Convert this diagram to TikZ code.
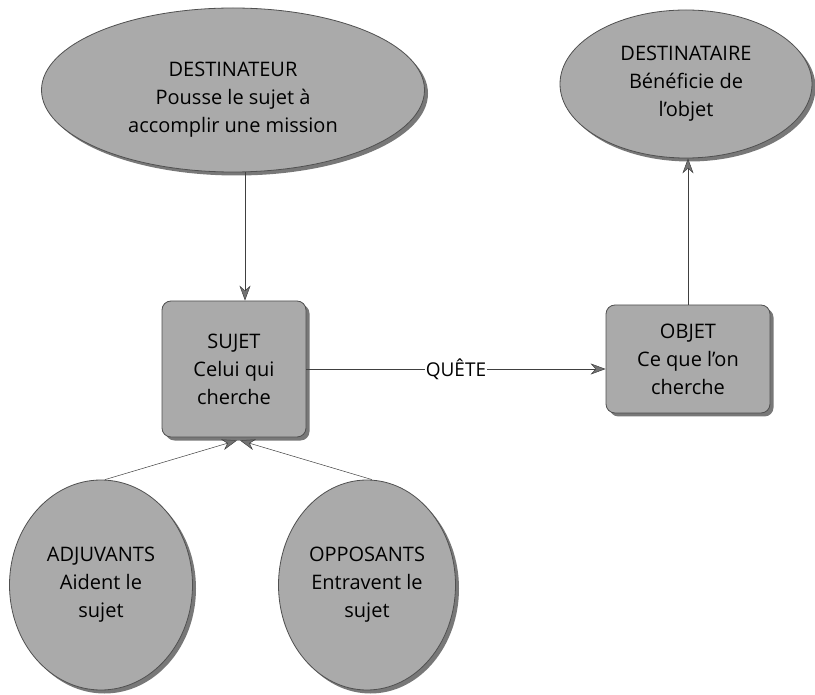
\documentclass[tikz,border=0pt]{standalone}
\usepackage{fontspec}
\setmainfont{Open Sans}
\usetikzlibrary{shapes.geometric,shadows,arrows.meta}
\definecolor{boxfill}{HTML}{AAAAAA}
\definecolor{boxline}{HTML}{505050}
\definecolor{shade}{HTML}{6A6A6A}
\begin{document}
\begin{tikzpicture}[x=1pt,y=-1pt,
  txt/.style={font=\fontsize{20}{28}\selectfont, align=center, text=black},
  shapebase/.style={txt, draw=boxline, fill=boxfill, line width=0.8pt, inner sep=0pt,
    drop shadow={shadow xshift=3.5pt, shadow yshift=-3.5pt, fill=shade, opacity=0.9}},
  ell/.style={shapebase, ellipse},
  rbox/.style={shapebase, rectangle, rounded corners=9pt},
  arr/.style={draw=black!75, line width=0.5pt, -{Stealth[length=15pt,width=11pt,fill=black!55]}}]
\useasboundingbox[fill=white] (0,0) rectangle (815,695);

\node[ell, minimum width=383pt, minimum height=164pt] (dest) at (233,90) {};
\node[txt] (desttext) at (233,100) {DESTINATEUR\\Pousse le sujet à\\accomplir une mission};
\node[ell, minimum width=252pt, minimum height=148pt] (destin) at (686,84)
  {DESTINATAIRE\\Bénéficie de\\l'objet};
\node[rbox, minimum width=144pt, minimum height=136pt] (sujet) at (234,369)
  {SUJET\\Celui qui\\cherche};
\node[rbox, minimum width=164pt, minimum height=108pt] (objet) at (688,359)
  {OBJET\\Ce que l'on\\cherche};
\node[ell, minimum width=183pt, minimum height=210pt] (adj) at (101,585)
  {ADJUVANTS\\Aident le\\sujet};
\node[ell, minimum width=177pt, minimum height=210pt] (opp) at (367,585)
  {OPPOSANTS\\Entravent le\\sujet};

\draw[arr] ([xshift=11pt]sujet.north |- dest.south) -- ([xshift=11pt]sujet.north);
\draw[arr] (objet.north) -- (objet.north |- destin.south);
\draw[arr] (sujet.east) -- node[fill=white, inner sep=1pt, font=\fontsize{19}{22}\selectfont] (quete) {QUÊTE} (sujet.east -| objet.west);
\draw[arr] ([xshift=4pt]adj.north) -- ([xshift=3pt,yshift=-3pt]sujet.south);
\draw[arr] ([xshift=5pt]opp.north) -- ([xshift=6pt,yshift=-3pt]sujet.south);
\end{tikzpicture}
\end{document}
